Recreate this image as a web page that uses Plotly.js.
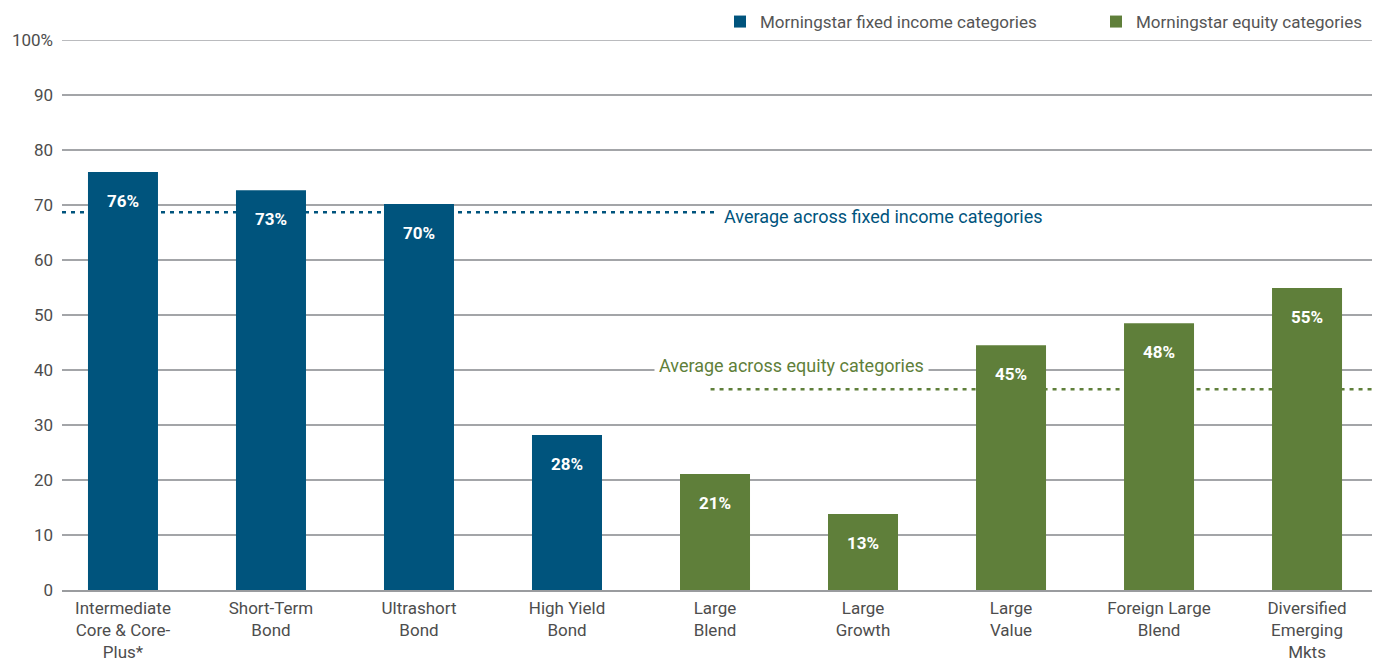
<!DOCTYPE html>
<html>
<head>
<meta charset="utf-8">
<script src="https://cdn.plot.ly/plotly-3.0.1.min.js"></script>
<style>html,body{margin:0;padding:0;background:#fff;}#chart{width:1386px;height:664px;}</style>
</head>
<body>
<div id="chart"></div>
<script>
const categories = ["Intermediate<br>Core & Core-<br>Plus*", "Short-Term<br>Bond", "Ultrashort<br>Bond", "High Yield<br>Bond", "Large<br>Blend", "Large<br>Growth", "Large<br>Value", "Foreign Large<br>Blend", "Diversified<br>Emerging<br>Mkts"];
const fixedIdx = [0, 1, 2, 3];
const fixedValues = [76, 72.7, 70.2, 28.2];
const fixedLabels = ["76%", "73%", "70%", "28%"];
const equityIdx = [4, 5, 6, 7, 8];
const equityValues = [21.1, 13.8, 44.5, 48.5, 54.9];
const equityLabels = ["21%", "13%", "45%", "48%", "55%"];
const fixedAverage = 68.7;
const equityAverage = 36.5;
const yTickVals = [0, 10, 20, 30, 40, 50, 60, 70, 80, 90, 100];
const yTickText = ["0", "10", "20", "30", "40", "50", "60", "70", "80", "90", "100%"];

const BLUE = "#00547d";
const GREEN = "#5f7f3a";
const GRID = "#a3a5a8";
const FONT = "Roboto, 'Open Sans', sans-serif";

const traces = [
  {type: "bar", name: "Morningstar fixed income categories", x: fixedIdx, y: fixedValues,
   width: 0.473, marker: {color: BLUE}, hoverinfo: "skip"},
  {type: "bar", name: "Morningstar equity categories", x: equityIdx, y: equityValues,
   width: 0.473, marker: {color: GREEN}, hoverinfo: "skip"}
];

const annotations = [];
fixedIdx.forEach((xi, k) => annotations.push({x: xi, y: fixedValues[k], text: fixedLabels[k], showarrow: false,
  yanchor: "middle", yshift: -29, font: {family: FONT, size: 17, color: "#fff", weight: "bold"}}));
equityIdx.forEach((xi, k) => annotations.push({x: xi, y: equityValues[k], text: equityLabels[k], showarrow: false,
  yanchor: "middle", yshift: -29, font: {family: FONT, size: 17, color: "#fff", weight: "bold"}}));
annotations.push({x: 4.05, y: fixedAverage, yshift: -4, xanchor: "left", yanchor: "middle", showarrow: false,
  text: "Average across fixed income categories", font: {family: FONT, size: 18, color: BLUE}});
annotations.push({x: 4.52, y: 40, yshift: 5, xanchor: "center", yanchor: "middle", showarrow: false,
  text: "Average across equity categories", bgcolor: "#fff", borderpad: 4,
  font: {family: FONT, size: 18, color: GREEN}});

const layout = {
  width: 1386, height: 664,
  margin: {l: 62, r: 14, t: 40, b: 74, autoexpand: false},
  paper_bgcolor: "#fff", plot_bgcolor: "#fff",
  font: {family: FONT, size: 17, color: "#4d4d4d"},
  barmode: "overlay",
  showlegend: true,
  legend: {orientation: "h", xref: "container", yref: "container", x: 720 / 1386, xanchor: "left",
    y: 1 - 4 / 664, yanchor: "top",
    font: {family: FONT, size: 17, color: "#555"}, entrywidth: 331, entrywidthmode: "pixels",
    traceorder: "normal", itemclick: false},
  xaxis: {range: [-0.412, 8.439], tickvals: [0,1,2,3,4,5,6,7,8], ticktext: categories,
    showgrid: false, zeroline: false, showline: true, linecolor: "#9a9c9f", linewidth: 1.5,
    ticks: "", ticklabelstandoff: 2, tickfont: {family: FONT, size: 17, color: "#4d4d4d"}, fixedrange: true},
  yaxis: {range: [0, 100], tickvals: yTickVals, ticktext: yTickText, showgrid: true,
    gridcolor: GRID, gridwidth: 1.3, zeroline: false, showline: false, ticks: "",
    ticklabelstandoff: 8, tickfont: {family: FONT, size: 17, color: "#4d4d4d"}, fixedrange: true},
  shapes: [
    {type: "line", layer: "below", xref: "paper", x0: 0, x1: 1, yref: "y", y0: 100, y1: 100,
     line: {color: GRID, width: 1.3}},
    {type: "line", layer: "below", xref: "paper", x0: 0, yref: "y", y0: fixedAverage, y1: fixedAverage,
     x1: 0, line: {color: BLUE, width: 2.5, dash: "4px,5px"}},
    {type: "line", layer: "below", xref: "paper", yref: "y", y0: equityAverage, y1: equityAverage,
     x0: 0, x1: 1, line: {color: GREEN, width: 2.5, dash: "4px,5px"}}
  ],
  annotations: annotations
};
const xr = layout.xaxis.range;
const toPaper = v => (v - xr[0]) / (xr[1] - xr[0]);
layout.shapes[1].x1 = toPaper(4.0);
layout.shapes[2].x0 = toPaper(3.97);

Plotly.newPlot("chart", traces, layout, {displayModeBar: false, staticPlot: true});
</script>
</body>
</html>
